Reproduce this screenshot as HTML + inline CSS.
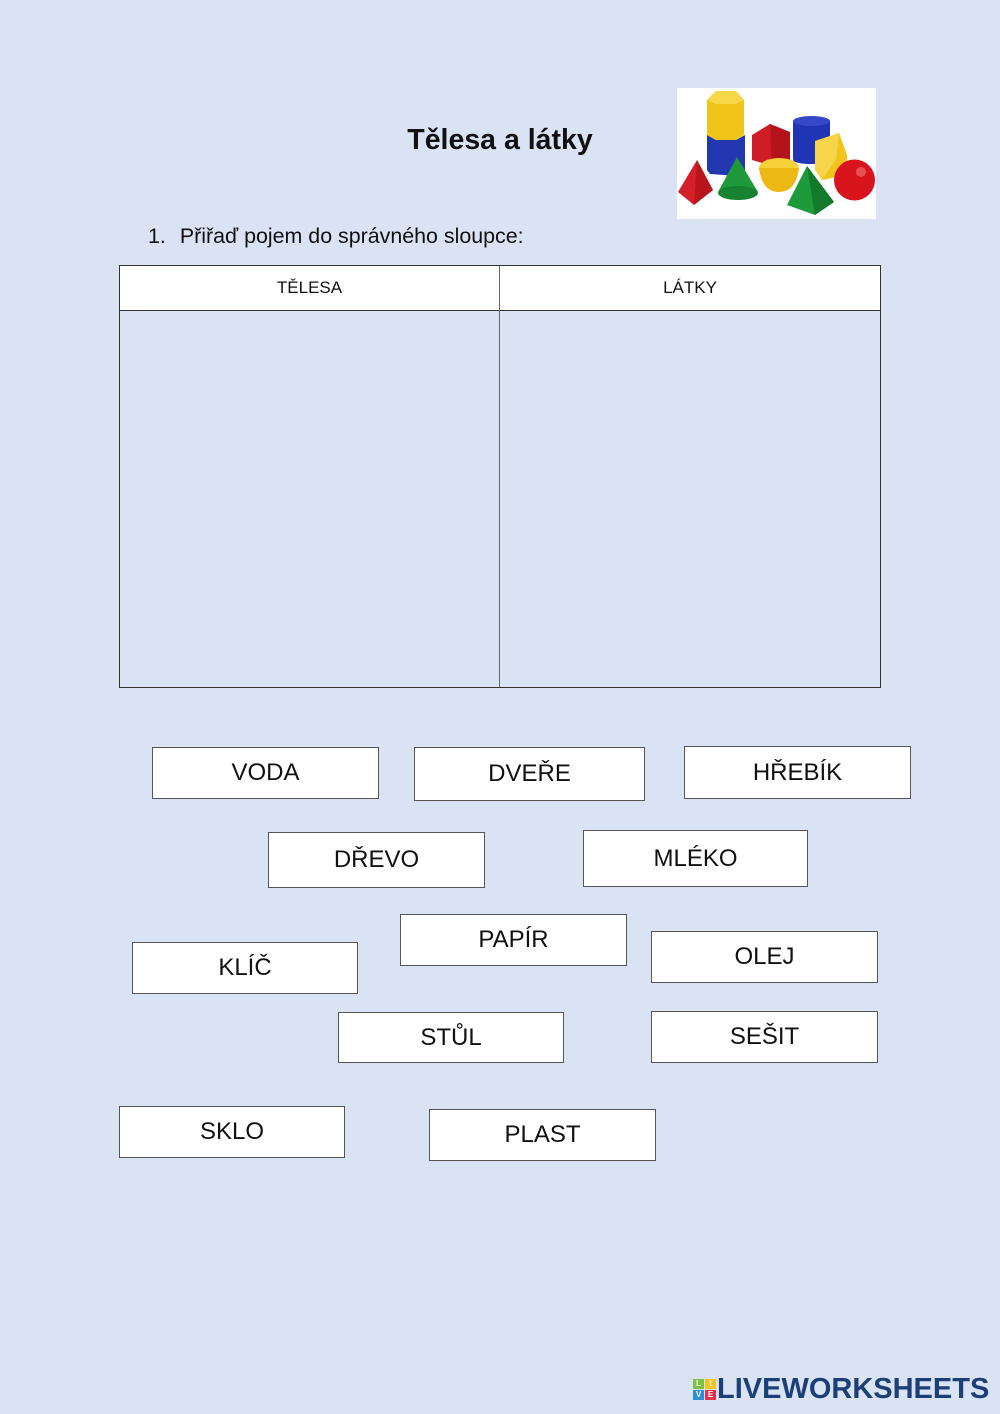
<!DOCTYPE html>
<html><head><meta charset="utf-8">
<style>
html,body{margin:0;padding:0}
body{width:1000px;height:1414px;background:#dae3f3;position:relative;overflow:hidden;font-family:"Liberation Sans",sans-serif;color:#111}
.t{position:absolute}
.box{position:absolute;background:#fff;border:1px solid #555;box-sizing:border-box;display:flex;align-items:center;justify-content:center;font-size:24px;color:#111}
</style></head><body>
<div class="t" style="left:350px;top:122px;width:300px;text-align:center;font-weight:bold;font-size:28.5px;line-height:36px">Tělesa a látky</div>
<div class="t" style="left:148px;top:224px;font-size:21.4px;line-height:24px;white-space:nowrap">1.<span style="display:inline-block;width:14px"></span>Přiřaď pojem do správného sloupce:</div>

<svg class="t" style="left:0;top:0" width="1000" height="1414">
<rect x="677" y="88" width="199" height="131" fill="#fff"/>
<!-- blue cube -->
<polygon points="707,135 716,140 736,140 745,135 745,170 738,176 710,174 707,170" fill="#2338b0"/>
<!-- yellow hex prism -->
<polygon points="707,100 716,91 736,91 744,100 744,135 736,140 716,140 707,135" fill="#f0c419"/>
<polygon points="707,100 716,91 736,91 744,100 736,104 716,104" fill="#f8d84a"/>
<!-- red pentagon prism -->
<polygon points="752,135 770,124 790,132 790,160 772,166 752,160" fill="#d01c24"/>
<polygon points="770,124 790,132 790,160 772,166" fill="#b3141c"/>
<!-- blue cylinder -->
<rect x="793" y="121" width="37" height="38" fill="#1f35b5"/>
<ellipse cx="811.5" cy="160" rx="18.5" ry="4" fill="#1f35b5"/>
<ellipse cx="811.5" cy="121" rx="18.5" ry="5" fill="#3548c8"/>
<!-- yellow tri prism -->
<polygon points="815,141 839,133 847,155 847,175 822,180 815,170" fill="#f2c31a"/>
<polygon points="815,141 839,133 836,160 822,180 815,170" fill="#f7d44a"/>
<!-- red tetrahedron -->
<polygon points="678,192 697,160 713,190 694,205" fill="#d42028"/>
<polygon points="697,160 713,190 694,205" fill="#b8141c"/>
<!-- green cone -->
<polygon points="737,157 718,192 758,192" fill="#1f9a3a"/>
<ellipse cx="738" cy="193" rx="20" ry="7" fill="#178230"/>
<!-- yellow hemisphere -->
<ellipse cx="779" cy="168" rx="20" ry="10" fill="#f7d13a"/>
<path d="M759,168 Q762,192 779,192 Q796,192 799,168 Z" fill="#ecb814"/>
<!-- green pyramid -->
<polygon points="807,166 787,205 815,215 834,202" fill="#1d9a3a"/>
<polygon points="807,166 815,215 834,202" fill="#137a2c"/>
<!-- red sphere -->
<circle cx="854.5" cy="180" r="20.5" fill="#d8141c"/>
<circle cx="861" cy="172" r="5" fill="#ee6a6a" opacity="0.7"/>
</svg>

<!-- table -->
<div class="t" style="left:119px;top:265px;width:762px;height:423px;border:1px solid #333;box-sizing:border-box"></div>
<div class="t" style="left:120px;top:266px;width:760px;height:44px;background:#fff;border-bottom:1px solid #333"></div>
<div class="t" style="left:499px;top:266px;width:1px;height:421px;background:#666"></div>
<div class="t" style="left:120px;top:276px;width:379px;text-align:center;font-size:17px;line-height:24px">TĚLESA</div>
<div class="t" style="left:500px;top:276px;width:380px;text-align:center;font-size:17px;line-height:24px">LÁTKY</div>

<div class="box" style="left:152px;top:747px;width:227px;height:52px">VODA</div>
<div class="box" style="left:414px;top:747px;width:231px;height:54px">DVEŘE</div>
<div class="box" style="left:684px;top:746px;width:227px;height:53px">HŘEBÍK</div>
<div class="box" style="left:268px;top:832px;width:217px;height:56px">DŘEVO</div>
<div class="box" style="left:583px;top:830px;width:225px;height:57px">MLÉKO</div>
<div class="box" style="left:400px;top:914px;width:227px;height:52px">PAPÍR</div>
<div class="box" style="left:132px;top:942px;width:226px;height:52px">KLÍČ</div>
<div class="box" style="left:651px;top:931px;width:227px;height:52px">OLEJ</div>
<div class="box" style="left:338px;top:1012px;width:226px;height:51px">STŮL</div>
<div class="box" style="left:651px;top:1011px;width:227px;height:52px">SEŠIT</div>
<div class="box" style="left:119px;top:1106px;width:226px;height:52px">SKLO</div>
<div class="box" style="left:429px;top:1109px;width:227px;height:52px">PLAST</div>

<!-- logo -->
<div class="t" style="left:693px;top:1379px;width:11px;height:10px;background:#7cc242;color:#fff;font-size:8px;font-weight:bold;text-align:center;line-height:10px">L</div>
<div class="t" style="left:705px;top:1379px;width:11px;height:10px;background:#f6c31c;color:#fff;font-size:8px;font-weight:bold;text-align:center;line-height:10px">I</div>
<div class="t" style="left:693px;top:1390px;width:11px;height:10px;background:#2e8fd6;color:#fff;font-size:8px;font-weight:bold;text-align:center;line-height:10px">V</div>
<div class="t" style="left:705px;top:1390px;width:11px;height:10px;background:#e6304a;color:#fff;font-size:8px;font-weight:bold;text-align:center;line-height:10px">E</div>
<div class="t" style="left:717px;top:1373px;font-size:29px;font-weight:bold;color:#1d3f78;line-height:32px;white-space:nowrap">LIVEWORKSHEETS</div>
</body></html>
